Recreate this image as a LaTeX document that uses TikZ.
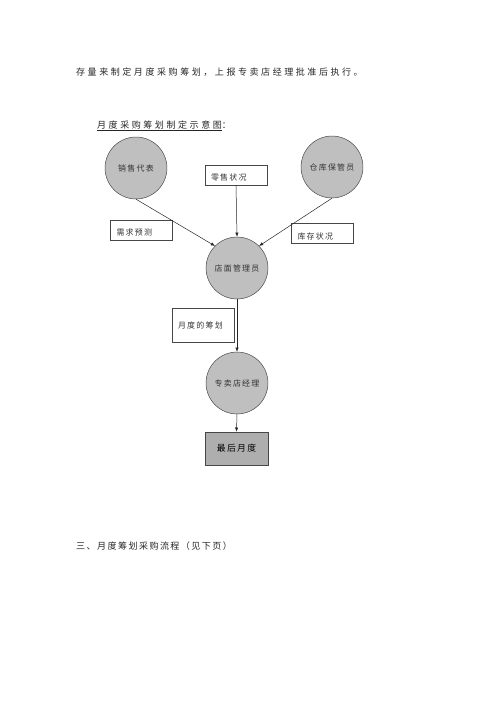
\documentclass[tikz,border=0pt]{standalone}
\usepackage{fontspec}
\newfontfamily\cjk{Noto Sans CJK SC}[LetterSpace=28]
\newfontfamily\cjknarrow{Noto Sans CJK SC}[LetterSpace=16]
\newfontfamily\cjknode{Noto Sans CJK SC}[LetterSpace=16]
\usetikzlibrary{arrows.meta}
\definecolor{circlegray}{RGB}{191,191,191}
\definecolor{boxgray}{RGB}{174,174,174}
\definecolor{linegray}{RGB}{70,70,70}
\tikzset{
  person/.style={circle, draw=linegray, fill=circlegray, line width=0.6pt,
    minimum size=2.6cm, inner sep=0pt, text=black!80,
    font=\cjknode\fontsize{9.5}{11}\selectfont},
  infobox/.style={draw=linegray, fill=white, line width=0.6pt,
    minimum width=2.6cm, minimum height=0.84cm, inner xsep=0.25cm,
    text width=2.1cm, align=left, text=black!80,
    font=\cjknode\fontsize{9.5}{11}\selectfont},
  resultbox/.style={draw=linegray, fill=boxgray, line width=0.6pt,
    minimum width=2.65cm, minimum height=1.39cm, inner sep=0pt, text=black,
    font=\cjknode\fontsize{10.5}{12}\selectfont},
  bodytext/.style={anchor=west, inner sep=0pt, text=black!85,
    font=\cjk\fontsize{10.8}{13}\selectfont},
  flow/.style={-{Latex[length=5pt,width=4pt]}, line width=0.6pt, draw=black!85},
}
\begin{document}
\begin{tikzpicture}[x=0.042cm, y=-0.042cm]
  \useasboundingbox (0,0) rectangle (500,707);

  % Running text
  \node[bodytext] (intro) at (76,72) {存量来制定月度采购筹划，上报专卖店经理批准后执行。};
  \node[bodytext] (caption) at (97,126) {\underline{月度采购筹划制定示意图}：};

  % People
  \node[person] (sales) at (136,168) {销售代表};
  \node[person] (keeper) at (332,167) {仓库保管员};
  \node[person] (manager) at (237,268) {店面管理员};
  \node[person] (chief) at (237,383) {专卖店经理};

  % Information boxes (text sits low in the box)
  \node[infobox] (retail) at (236,175) {\raisebox{-3pt}[\height][\depth]{零售状况}};
  \node[infobox] (demand) at (141.5,230) {\raisebox{-3pt}[\height][\depth]{需求预测}};
  \node[infobox] (stock) at (322.5,233.5) {\raisebox{-3pt}[\height][\depth]{库存状况}};
  \node[infobox, minimum height=1.43cm] (plan) at (203,325) {月度的筹划};

  % Result
  \node[resultbox] (final) at (236.5,448.5) {最后月度};

  % Arrows
  \draw[flow] (sales.south) -- (manager.135);
  \draw[flow] (retail.south) -- (manager.north);
  \draw[flow] (keeper.south) -- (manager.45);
  \draw[flow] (manager.south) -- (chief.north);
  \draw[flow] (chief.south) -- (final.north);

  % Next section
  \node[bodytext, font=\cjknarrow\fontsize{10.8}{13}\selectfont] (next) at (76,546) {三、月度筹划采购流程（见下页）};
\end{tikzpicture}
\end{document}
